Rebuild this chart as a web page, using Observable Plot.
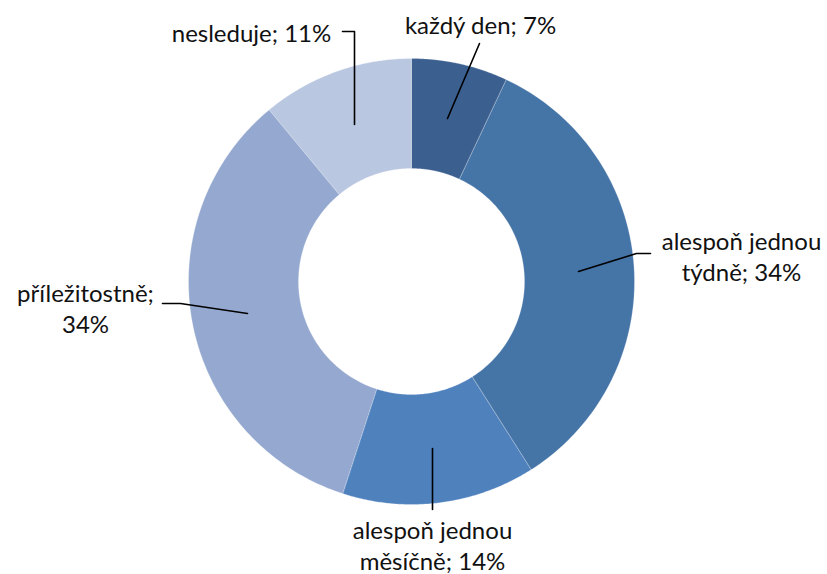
<!DOCTYPE html>
<html><head><meta charset="utf-8">
<script src="https://cdn.jsdelivr.net/npm/d3@7"></script>
<script src="https://cdn.jsdelivr.net/npm/@observablehq/plot@0.6"></script>
<style>body{margin:0;background:#fff}</style>
</head><body><div id="chart"></div>
<script>
const categories = ["každý den", "alespoň jednou týdně", "alespoň jednou měsíčně", "příležitostně", "nesleduje"];
const values = [7, 34, 14, 34, 11];
const labelTexts = ["každý den; 7%", "alespoň jednou\ntýdně; 34%", "alespoň jednou\nměsíčně; 14%", "příležitostně;\n34%", "nesleduje; 11%"];
const colors = ["#3B5F8F", "#4574A7", "#4F81BD", "#95A9D0", "#BAC7E1"];

// layout
const W = 827, H = 574, cx = 411, cy = 281, R = 223, r0 = 113;
const labelPos = [
  {x: 480, y: 24},
  {x: 741, y: 255},
  {x: 432, y: 544},
  {x: 85, y: 307},
  {x: 251, y: 32}
];
const leaderPts = [
  [[447,118],[479,43]],
  [[578,271],[636,253],[650,253]],
  [[432,448],[432,509]],
  [[247,313],[180,303],[162,303]],
  [[354,124],[354,31],[342,31]]
];

const total = d3.sum(values);
const polys = [];
let acc = 0;
categories.forEach((c, i) => {
  const a0 = acc / total * 2 * Math.PI;
  acc += values[i];
  const a1 = acc / total * 2 * Math.PI;
  const n = 120;
  for (let k = 0; k <= n; k++) {
    const a = a0 + (a1 - a0) * k / n;
    polys.push({cat: c, x: cx + R * Math.sin(a), y: cy - R * Math.cos(a)});
  }
  for (let k = n; k >= 0; k--) {
    const a = a0 + (a1 - a0) * k / n;
    polys.push({cat: c, x: cx + r0 * Math.sin(a), y: cy - r0 * Math.cos(a)});
  }
});
const leaders = leaderPts.flatMap((pts, i) => pts.map(([x, y]) => ({id: i, x, y})));
const labels = categories.map((c, i) => ({text: labelTexts[i], ...labelPos[i]}));

const chart = Plot.plot({
  width: W, height: H, margin: 0,
  x: {domain: [0, W], range: [0, W], axis: null},
  y: {domain: [0, H], range: [0, H], axis: null},
  color: {domain: categories, range: colors},
  style: {fontFamily: "Lato, 'Open Sans', sans-serif", background: "#fff"},
  marks: [
    Plot.line(polys, {x: "x", y: "y", z: "cat", fill: "cat", stroke: "#fff", strokeWidth: 0.4, strokeOpacity: 0.6, curve: "linear-closed"}),
    Plot.line(leaders, {x: "x", y: "y", z: "id", stroke: "#000", strokeWidth: 1.6}),
    Plot.text(labels, {x: "x", y: "y", text: "text", textAnchor: "middle", fontSize: 24, lineHeight: 1.3, fill: "#111"})
  ]
});
document.getElementById("chart").appendChild(chart);
</script></body></html>
